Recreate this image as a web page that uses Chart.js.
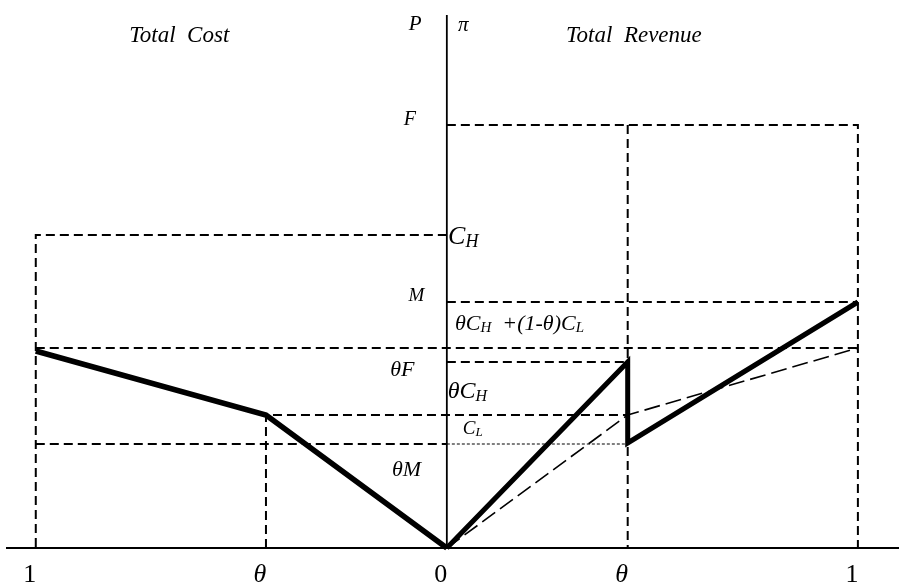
<!DOCTYPE html>
<html>
<head>
<meta charset="utf-8">
<script src="https://cdn.jsdelivr.net/npm/chart.js@4/dist/chart.umd.min.js"></script>
<style>
    html, body { margin: 0; padding: 0; background: #fff; }
    canvas { display: block; }
</style>
</head>
<body>
<canvas id="diagram" width="899" height="584"></canvas>
<script>
// Horizontal axis: share of type H (left = cost side, right = revenue side)
const xTicks = [-1, -0.44, 0, 0.44, 1];
const xTickLabels = ['1', 'θ', '0', 'θ', '1'];

// Levels on the vertical axis
const levelF = 4.23;
const levelCH = 3.13;
const levelM = 2.46;
const levelMix = 2.0;
const levelThetaF = 1.86;
const levelThetaCH = 1.33;
const levelCL = 1.04;

// Thick curves
const totalCostX = [-1, -0.44, 0];
const totalCostY = [1.97, 1.33, 0];
const totalRevenueX = [0, 0.44, 0.44, 1];
const totalRevenueY = [0, 1.86, 1.05, 2.46];

// Thin long-dashed pooling line
const poolingX = [0, 0.44, 1];
const poolingY = [0, 1.33, 2.0];

const SERIF = "'Liberation Serif', 'Times New Roman', serif";

function points(xs, ys) {
    return xs.map((x, i) => ({ x, y: ys[i] }));
}

// Dashed guide segments, joined with gaps
const guideSegments = [
    [[0, levelF], [1, levelF], [1, 0]],
    [[0.44, levelF], [0.44, 0]],
    [[0, levelCH], [-1, levelCH], [-1, 0]],
    [[0, levelM], [1, levelM]],
    [[-1, levelMix], [1, levelMix]],
    [[0, levelThetaF], [0.44, levelThetaF]],
    [[-0.44, 0], [-0.44, levelThetaCH], [0.44, levelThetaCH]],
    [[-1, levelCL], [0, levelCL]]
];

function joinSegments(segments) {
    const out = [];
    segments.forEach((seg, i) => {
        if (i > 0) {
            out.push({ x: seg[0][0], y: null });
        }
        seg.forEach(([x, y]) => out.push({ x, y }));
    });
    return out;
}

// Text labels: parts are [text, isSubscript]
const annotations = [
    { x: -0.077, y: 5.24, size: 21, align: 'center', parts: [['P']] },
    { x: 0.04, y: 5.23, size: 21, align: 'center', parts: [['π']] },
    { x: -0.651, y: 5.125, size: 23, align: 'center', parts: [['Total  Cost']] },
    { x: 0.455, y: 5.125, size: 23, align: 'center', parts: [['Total  Revenue']] },
    { x: -0.09, y: 4.285, size: 20, align: 'center', parts: [['F']] },
    { x: 0.003, y: 3.105, size: 26, align: 'left', parts: [['C'], ['H', true]] },
    { x: -0.074, y: 2.525, size: 19, align: 'center', parts: [['M']] },
    { x: 0.02, y: 2.24, size: 22, align: 'left', parts: [['θC'], ['H', true], ['  +(1-θ)C'], ['L', true]] },
    { x: -0.108, y: 1.78, size: 22, align: 'center', parts: [['θF']] },
    { x: 0.002, y: 1.56, size: 24, align: 'left', parts: [['θC'], ['H', true]] },
    { x: 0.039, y: 1.19, size: 19, align: 'left', parts: [['C'], ['L', true]] },
    { x: -0.098, y: 0.775, size: 22, align: 'center', parts: [['θM']] }
];

function drawRich(ctx, parts, px, py, size, align) {
    const fontFor = sub => `italic ${sub ? Math.round(size * 0.68) : size}px ${SERIF}`;
    let total = 0;
    parts.forEach(([text, sub]) => {
        ctx.font = fontFor(sub);
        total += ctx.measureText(text).width;
    });
    let cx = align === 'center' ? px - total / 2 : px;
    ctx.textAlign = 'left';
    parts.forEach(([text, sub]) => {
        ctx.font = fontFor(sub);
        ctx.fillText(text, cx, sub ? py + size * 0.2 : py);
        cx += ctx.measureText(text).width;
    });
}

const textPlugin = {
    id: 'diagramText',
    afterDatasetsDraw(chart) {
        const { ctx, scales: { x, y } } = chart;
        ctx.save();
        ctx.fillStyle = '#000';
        ctx.textBaseline = 'middle';
        annotations.forEach(a => {
            drawRich(ctx, a.parts, x.getPixelForValue(a.x), y.getPixelForValue(a.y), a.size, a.align);
        });
        ctx.restore();
    }
};

const lineDefaults = {
    showLine: true,
    pointRadius: 0,
    borderColor: '#000',
    fill: false,
    tension: 0,
    spanGaps: false,
    clip: false
};

new Chart(document.getElementById('diagram'), {
    type: 'line',
    data: {
        datasets: [
            { ...lineDefaults, label: 'Vertical axis', data: points([0, 0], [0, 5.33]), borderWidth: 1.8 },
            { ...lineDefaults, label: 'Guides', data: joinSegments(guideSegments), borderWidth: 2, borderDash: [9, 5] },
            { ...lineDefaults, label: 'C_L dotted', data: points([0, 0.44], [levelCL, levelCL]), borderWidth: 1.2, borderDash: [3, 2] },
            { ...lineDefaults, label: 'Pooling', data: points(poolingX, poolingY), borderWidth: 1.6, borderDash: [16, 6] },
            { ...lineDefaults, label: 'Total cost', data: points(totalCostX, totalCostY), borderWidth: 5.5, borderJoinStyle: 'miter' },
            { ...lineDefaults, label: 'Total revenue', data: points(totalRevenueX, totalRevenueY), borderWidth: 5, borderJoinStyle: 'miter' }
        ]
    },
    options: {
        responsive: false,
        animation: false,
        devicePixelRatio: 1,
        layout: { padding: { left: 7, right: 0, top: 10, bottom: 0 } },
        plugins: {
            legend: { display: false },
            tooltip: { enabled: false }
        },
        scales: {
            x: {
                type: 'linear',
                min: -1.07,
                max: 1.10,
                afterBuildTicks: scale => {
                    scale.ticks = xTicks.map(value => ({ value }));
                },
                afterFit: scale => {
                    scale.height = 36;
                },
                grid: { display: false, drawTicks: false },
                border: { display: true, color: '#000', width: 2 },
                ticks: {
                    autoSkip: false,
                    maxRotation: 0,
                    padding: 12,
                    labelOffset: -6,
                    color: '#000',
                    callback: (value, index) => xTickLabels[index],
                    font: ctx => ({
                        family: SERIF,
                        size: 26,
                        style: xTickLabels[ctx.index] === 'θ' ? 'italic' : 'normal'
                    })
                }
            },
            y: {
                display: false,
                min: 0,
                max: 5.38
            }
        }
    },
    plugins: [textPlugin]
});
</script>
</body>
</html>
